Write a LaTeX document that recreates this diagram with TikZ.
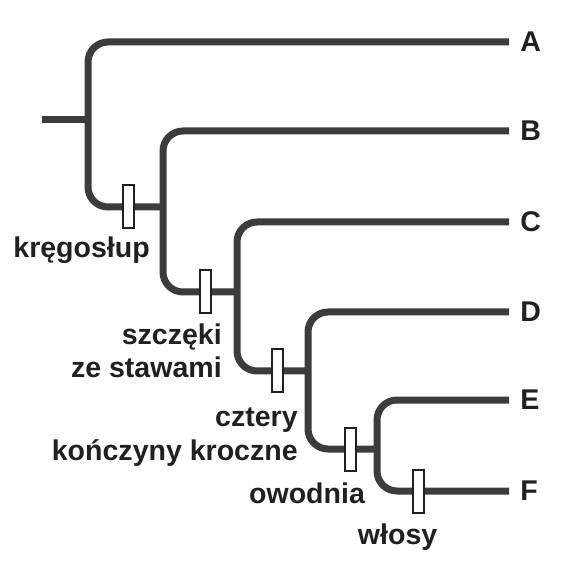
\documentclass[tikz,border=0pt]{standalone}
\usepackage{fontspec}
\setmainfont{Liberation Sans}
\definecolor{branchgray}{HTML}{3C3C3C}
\definecolor{inkblack}{HTML}{231F20}
\begin{document}
\begin{tikzpicture}[
    branch/.style={line width=0.175cm, color=branchgray, rounded corners=0.5cm},
    trait/.style={draw=inkblack, fill=white, line width=0.05cm, minimum width=0.275cm, minimum height=1.075cm, inner sep=0cm},
    taxon/.style={anchor=west, inner sep=0cm, text=inkblack},
    traittext/.style={inner sep=0cm, text=inkblack, align=right},
    font=\fontsize{20.3}{23.5}\selectfont\bfseries]
\useasboundingbox (0.000000,0.000000) rectangle (14.700000,14.375000);

% Tips of the taxa
\coordinate (tA) at (12.725000,13.325000);
\coordinate (tB) at (12.725000,11.100000);
\coordinate (tC) at (12.725000,8.825000);
\coordinate (tD) at (12.725000,6.575000);
\coordinate (tE) at (12.725000,4.375000);
\coordinate (tF) at (12.725000,2.100000);

% Bends and joins of the clades
\coordinate (root) at (1.050000,11.375000);
\coordinate (rootJoin) at (2.200000,11.375000);
\coordinate (bendA) at (2.200000,9.200000);
\coordinate (joinB) at (4.075000,9.200000);
\coordinate (bendB) at (4.075000,7.075000);
\coordinate (joinC) at (5.925000,7.075000);
\coordinate (bendC) at (5.925000,5.100000);
\coordinate (joinD) at (7.700000,5.100000);
\coordinate (bendD) at (7.700000,3.150000);
\coordinate (joinE) at (9.425000,3.150000);
\coordinate (bendE) at (9.425000,2.100000);

% Drawing root stem
\draw [branch] (root) -- (rootJoin);%

% Drawing clade A
\draw [branch] (tA) -| (bendA) -- (joinB);%

% Drawing clade B
\draw [branch] (tB) -| (bendB) -- (joinC);%

% Drawing clade C
\draw [branch] (tC) -| (bendC) -- (joinD);%

% Drawing clade D
\draw [branch] (tD) -| (bendD) -- (joinE);%

% Drawing clade E F
\draw [branch] (tE) -| (bendE) -- (tF);%

% Marking traits by bars
\node [trait] (krego) at (3.200000,9.200000) {};%
\node [trait] (szczeki) at (5.125000,7.075000) {};%
\node [trait] (konczyny) at (6.925000,5.100000) {};%
\node [trait] (owodnia) at (8.750000,3.150000) {};%
\node [trait] (wlosy) at (10.450000,2.100000) {};%

% Naming traits
\node [traittext, anchor=base] (lkrego) at (2.040000,7.925000) {kręgosłup};%
\node [traittext, anchor=base east] (lszczeki) at (5.550000,4.925000) {szczęki\\ze stawami};%
\node [traittext, anchor=base east] (lkonczyny) at (7.450000,2.875000) {cztery\\kończyny kroczne};%
\node [traittext, anchor=base] (lowodnia) at (7.675000,1.800000) {owodnia};%
\node [traittext, anchor=base] (lwlosy) at (9.940000,0.775000) {włosy};%

% Naming taxa
\node [taxon] (labA) at (13.000000,13.325000) {A};%
\node [taxon] (labB) at (13.000000,11.100000) {B};%
\node [taxon] (labC) at (13.000000,8.825000) {C};%
\node [taxon] (labD) at (13.000000,6.575000) {D};%
\node [taxon] (labE) at (13.000000,4.375000) {E};%
\node [taxon] (labF) at (13.000000,2.100000) {F};%
\end{tikzpicture}
\end{document}
